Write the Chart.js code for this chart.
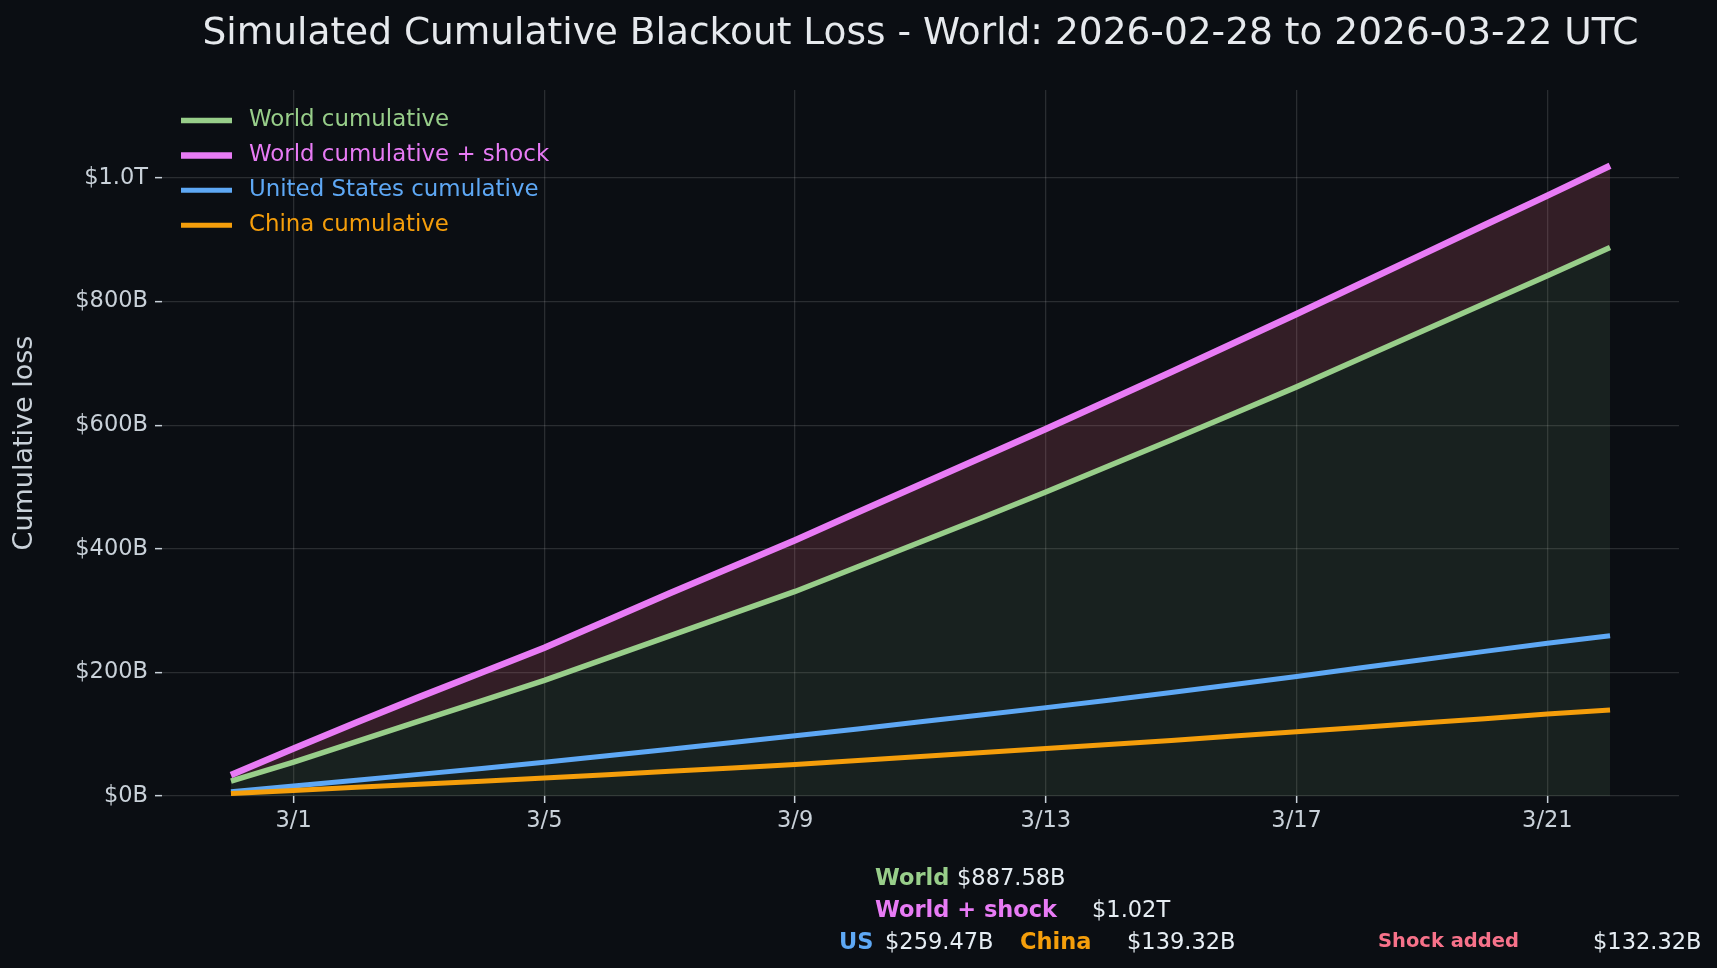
<!DOCTYPE html>
<html>
<head>
<meta charset="utf-8">
<title>Simulated Cumulative Blackout Loss</title>
<script src="https://cdn.jsdelivr.net/npm/chart.js@4.4.0/dist/chart.umd.min.js"></script>
<style>
    html, body { margin: 0; padding: 0; background: #0b0e13; }
    #wrap { position: relative; width: 1717px; height: 968px; }
    .note { position: absolute; font-family: 'DejaVu Sans', sans-serif; font-size: 22.5px; line-height: 1; color: #e6edf3; white-space: nowrap; }
    .b { font-weight: bold; }
</style>
</head>
<body>
<div id="wrap">
    <canvas id="lossChart"></canvas>
    <div class="note b" style="left:875px; top:866px; color:#98ce8a;">World</div>
    <div class="note" style="left:957px; top:866px;">$887.58B</div>
    <div class="note b" style="left:875px; top:898px; color:#e87bf5;">World + shock</div>
    <div class="note" style="left:1092px; top:898px;">$1.02T</div>
    <div class="note b" style="left:839px; top:930px; color:#5ea8f5;">US</div>
    <div class="note" style="left:885px; top:930px;">$259.47B</div>
    <div class="note b" style="left:1020px; top:930px; color:#f59e0b;">China</div>
    <div class="note" style="left:1127px; top:930px;">$139.32B</div>
    <div class="note b" style="left:1378px; top:931px; font-size:19.5px; color:#f7728a;">Shock added</div>
    <div class="note" style="left:1593px; top:930px;">$132.32B</div>
</div>
<script>
// days since 2026-02-28 (0 = 2/28, 22 = 3/22)
const days = [0, 1, 2, 3, 4, 5, 6, 7, 8, 9, 10, 11, 12, 13, 14, 15, 16, 17, 18, 19, 20, 21, 22];

// cumulative loss, billions of USD
const worldCum = [24, 55, 88, 121, 154, 187, 223, 259, 295, 331, 371, 411, 451, 492, 534, 576, 619, 662, 707, 752, 797, 842, 887.58];
const worldShockCum = [34, 77, 119, 160, 200, 240, 284, 328, 371, 414, 459, 504, 549, 594, 640, 686, 733, 780, 828, 876, 924, 971.5, 1019.9];
const usCum = [7, 16, 25.5, 35, 44.5, 54.5, 65, 75.5, 86.5, 97.5, 108.5, 120, 131.5, 143, 155, 167.5, 180.5, 193.5, 207, 220.5, 234, 247, 259.47];
const chinaCum = [4, 9, 14, 19, 24, 29, 34.5, 40, 45.5, 51, 57.5, 64, 70.5, 77, 83.5, 90, 97, 104, 111, 118, 125, 132.5, 139.32];

const seriesLabels = ['World cumulative', 'World cumulative + shock', 'United States cumulative', 'China cumulative'];

const xTickDays = [1, 5, 9, 13, 17, 21];
const xTickLabels = ['3/1', '3/5', '3/9', '3/13', '3/17', '3/21'];
const yTickValues = [0, 200, 400, 600, 800, 1000];
const yTickLabels = ['$0B', '$200B', '$400B', '$600B', '$800B', '$1.0T'];

const textColor = '#c9d1d9';
const gridColor = 'rgba(255, 255, 255, 0.13)';

function toPoints(values) {
    return values.map((v, i) => ({ x: days[i], y: v }));
}

// legend drawn inside the plot, top-left, like the original
const insideLegend = {
    id: 'insideLegend',
    afterDraw(chart) {
        const ctx = chart.ctx;
        const area = chart.chartArea;
        ctx.save();
        ctx.font = '22.9px "DejaVu Sans"';
        ctx.textBaseline = 'middle';
        chart.data.datasets.forEach(function (ds, i) {
            const y = area.top + 30.5 + i * 34.9;
            ctx.strokeStyle = ds.borderColor;
            ctx.lineWidth = ds.borderWidth;
            ctx.lineCap = 'butt';
            ctx.beginPath();
            ctx.moveTo(area.left + 19, y);
            ctx.lineTo(area.left + 70, y);
            ctx.stroke();
            ctx.fillStyle = ds.borderColor;
            ctx.fillText(ds.label, area.left + 87, y);
        });
        ctx.restore();
    }
};

const lossChart = new Chart(document.getElementById('lossChart').getContext('2d'), {
    type: 'line',
    data: {
        datasets: [
            {
                label: seriesLabels[0],
                data: toPoints(worldCum),
                borderColor: '#98ce8a',
                borderWidth: 5.5,
                backgroundColor: 'rgba(152, 206, 138, 0.1)',
                fill: 'origin',
                order: 4
            },
            {
                label: seriesLabels[1],
                data: toPoints(worldShockCum),
                borderColor: '#e87bf5',
                borderWidth: 6.5,
                backgroundColor: 'rgba(247, 114, 138, 0.17)',
                fill: '-1',
                order: 3
            },
            {
                label: seriesLabels[2],
                data: toPoints(usCum),
                borderColor: '#5ea8f5',
                borderWidth: 5,
                fill: false,
                order: 2
            },
            {
                label: seriesLabels[3],
                data: toPoints(chinaCum),
                borderColor: '#f59e0b',
                borderWidth: 5,
                fill: false,
                order: 1
            }
        ]
    },
    options: {
        responsive: true,
        maintainAspectRatio: false,
        animation: false,
        layout: { padding: { left: 8, right: 38, top: 0, bottom: 122 } },
        elements: {
            point: { radius: 0, hoverRadius: 0 },
            line: { tension: 0, borderCapStyle: 'butt' }
        },
        plugins: {
            legend: { display: false },
            tooltip: { enabled: false },
            filler: { drawTime: 'beforeDatasetsDraw' },
            title: {
                display: true,
                fullSize: false,
                text: 'Simulated Cumulative Blackout Loss - World: 2026-02-28 to 2026-03-22 UTC',
                color: '#e6e9ed',
                font: { family: 'DejaVu Sans', size: 37.5, weight: 'normal', lineHeight: 1.2 },
                padding: { top: 12, bottom: 33 }
            }
        },
        scales: {
            x: {
                type: 'linear',
                min: -1.1,
                max: 23.1,
                border: { display: false },
                grid: { color: gridColor, lineWidth: 1.3, tickLength: 7, tickColor: textColor, tickWidth: 1.5 },
                ticks: {
                    color: textColor,
                    font: { family: 'DejaVu Sans', size: 22.5 },
                    padding: 5,
                    maxRotation: 0,
                    autoSkip: false,
                    callback: function (value) {
                        return xTickLabels[xTickDays.indexOf(value)];
                    }
                },
                afterBuildTicks: function (scale) {
                    scale.ticks = xTickDays.map(v => ({ value: v }));
                },
                afterFit: function (scale) {
                    scale.height = 50;
                }
            },
            y: {
                type: 'linear',
                min: 0,
                max: 1142.4,
                border: { display: false },
                grid: { color: gridColor, lineWidth: 1.3, tickLength: 7, tickColor: textColor, tickWidth: 1.5 },
                ticks: {
                    color: textColor,
                    font: { family: 'DejaVu Sans', size: 22.5 },
                    padding: 7,
                    callback: function (value) {
                        return yTickLabels[yTickValues.indexOf(value)];
                    }
                },
                afterBuildTicks: function (scale) {
                    scale.ticks = yTickValues.map(v => ({ value: v }));
                },
                afterFit: function (scale) {
                    scale.width = 154;
                },
                title: {
                    display: true,
                    text: 'Cumulative loss',
                    color: textColor,
                    font: { family: 'DejaVu Sans', size: 27, lineHeight: 1.2 },
                    padding: { top: 1, bottom: 0 }
                }
            }
        }
    },
    plugins: [insideLegend]
});
</script>
</body>
</html>
